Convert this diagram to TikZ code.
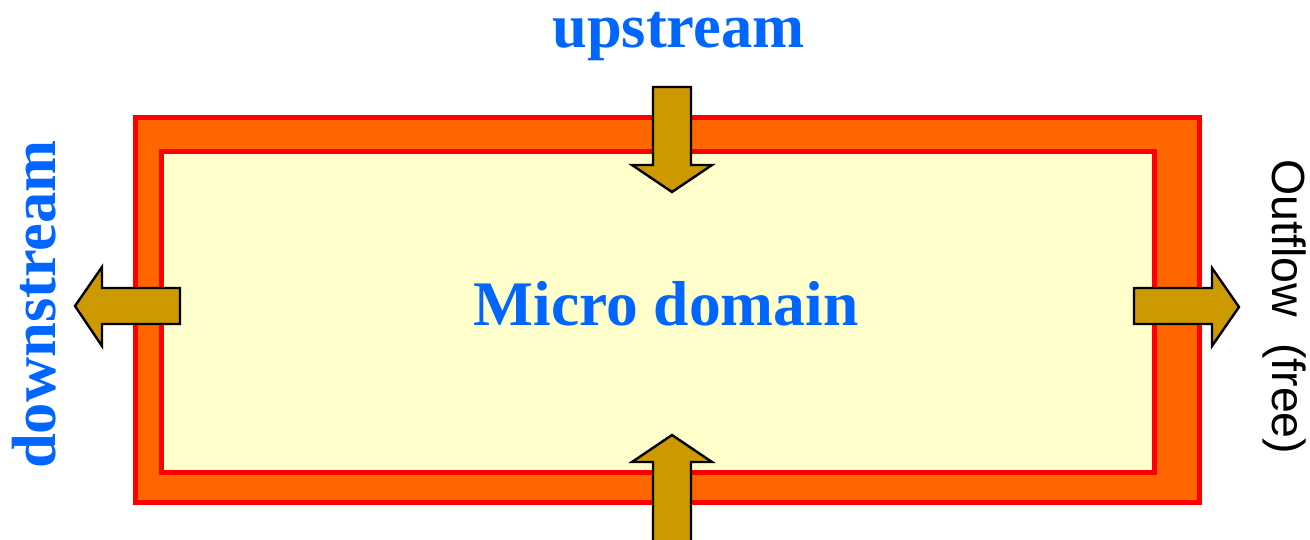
\documentclass[tikz,border=0pt]{standalone}
\usepackage{fontspec}
\setmainfont{Liberation Serif}
\newfontfamily\sansfont{Liberation Sans}
\definecolor{frameorange}{HTML}{FF6600}
\definecolor{framered}{HTML}{FF0000}
\definecolor{domainfill}{HTML}{FFFFCC}
\definecolor{arrowgold}{HTML}{CC9900}
\definecolor{labelblue}{HTML}{0066FF}
\tikzset{
  framebox/.style={draw=framered, line width=5pt},
  blockarrow/.style={draw=black, fill=arrowgold, line width=2.4pt, line join=miter},
  bluelabel/.style={text=labelblue, font=\bfseries\fontsize{62.5}{62.5}\selectfont, inner sep=0pt, anchor=base},
  sidelabel/.style={text=black, font=\sansfont\fontsize{46.5}{46.5}\selectfont, inner sep=0pt, anchor=base}
}
\begin{document}
\begin{tikzpicture}[x=1pt, y=-1pt]
  \useasboundingbox (0,0) rectangle (1310,539);
  \clip (0,0) rectangle (1310,539);
  % boundary zone and inner domain
  \draw[framebox, fill=frameorange] (135,117.5) rectangle (1199,502);
  \draw[framebox, fill=domainfill] (161.5,151.5) rectangle (1154.5,472);
  % inflow from above
  \draw[blockarrow] (653,87) -- (691,87) -- (691,165) -- (712,165) -- (672,192)
    -- (632,165) -- (653,165) -- cycle;
  % inflow from below
  \draw[blockarrow] (653,545) -- (691,545) -- (691,462) -- (712,462) -- (672,435)
    -- (632,462) -- (653,462) -- cycle;
  % outflow to the left
  \draw[blockarrow] (180,288) -- (180,324) -- (102,324) -- (102,346) -- (75,306)
    -- (102,267) -- (102,288) -- cycle;
  % outflow to the right
  \draw[blockarrow] (1134,288) -- (1134,324) -- (1212,324) -- (1212,346) -- (1239,307)
    -- (1212,268) -- (1212,288) -- cycle;
  % labels
  \node[bluelabel] (up) at (678.5,47) {upstream};
  \node[bluelabel, font=\bfseries\fontsize{63.5}{63.5}\selectfont] (micro) at (666,325) {Micro domain};
  \node[bluelabel, rotate=90] (down) at (55,304.5) {downstream};
  \node[sidelabel, rotate=-90] (outflow) at (1272,307) {Outflow\ \ (free)};
\end{tikzpicture}
\end{document}
